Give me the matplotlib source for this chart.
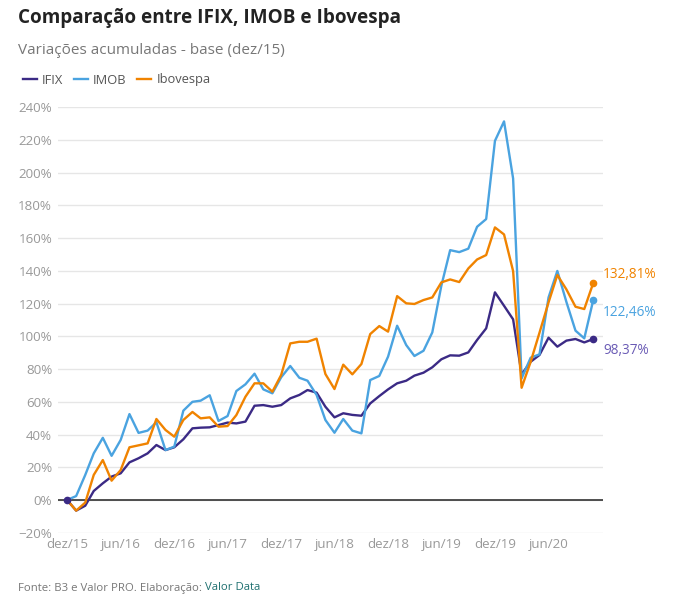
import numpy as np
import matplotlib.pyplot as plt
import matplotlib.dates as mdates
import pandas as pd

plt.rcParams['font.family'] = ['Open Sans', 'DejaVu Sans']

# monthly data, dez/15 .. nov/20 (accumulated %)
months = pd.date_range('2015-12-01', '2020-11-01', freq='MS')

ifix = [0, -6.5, -3.5, 5.5, 10.2, 14.3, 16.3, 23.0, 25.5, 28.5, 33.6, 30.5,
        32.2, 37.1, 43.8, 44.2, 44.4, 45.8, 47.3, 46.8, 47.9, 57.6, 58.0, 57.0,
        58.0, 62.1, 64.2, 67.2, 65.6, 57.0, 50.5, 53.0, 52.0, 51.5, 59.0, 63.5,
        67.6, 71.3, 72.9, 76.0, 77.8, 81.1, 86.0, 88.4, 88.2, 90.2, 97.8, 104.9,
        126.9, 118.7, 110.4, 76.8, 84.5, 88.6, 99.2, 93.7, 97.4, 98.4, 96.3, 98.37]

imob = [0, 2.4, 15.3, 28.5, 38.0, 27.0, 36.7, 52.5, 41.0, 42.4, 47.5, 30.5,
        32.6, 54.6, 60.0, 60.7, 64.0, 48.3, 51.3, 66.6, 70.7, 77.2, 67.6, 65.2,
        75.0, 81.9, 74.7, 72.9, 64.2, 48.9, 41.1, 49.5, 42.4, 40.7, 73.3, 75.8,
        87.6, 106.5, 94.7, 88.0, 91.2, 102.4, 131.0, 152.7, 151.5, 153.6, 167.0, 171.7,
        219.5, 231.4, 196.5, 74.3, 87.0, 89.0, 123.8, 140.0, 121.0, 103.5, 98.8, 122.46]

ibov = [0, -6.5, -1.6, 15.3, 24.4, 11.8, 18.3, 32.2, 33.4, 34.6, 49.5, 42.8,
        38.7, 48.9, 53.8, 49.9, 50.5, 44.8, 45.2, 51.9, 63.1, 71.3, 71.3, 66.2,
        76.4, 95.7, 96.7, 96.7, 98.6, 77.0, 67.8, 82.7, 76.8, 83.1, 101.4, 106.3,
        102.9, 124.6, 120.2, 119.8, 122.2, 123.8, 133.0, 134.8, 133.2, 141.5, 147.0, 149.7,
        166.6, 162.3, 139.9, 68.6, 84.5, 102.2, 120.8, 137.5, 128.7, 118.1, 116.7, 132.81]

names = ['IFIX', 'IMOB', 'Ibovespa']
colors = ['#3b2a85', '#4aa3e0', '#f08300']
label_colors = ['#6a5bb5', '#4aa3e0', '#f08300']
yticks = np.arange(-20, 241, 20)

fig = plt.figure(figsize=(6.92, 6.07), dpi=100)
ax = fig.add_axes([0.0834, 0.1224, 0.7876, 0.7008])

series = [ifix, imob, ibov]
for vals, name, c in zip(series, names, colors):
    ax.plot(months, vals, color=c, lw=1.7, label=name, zorder=3)
    ax.plot(months[-1], vals[-1], 'o', color=c, ms=4.5, zorder=4)

ax.plot(months[0], ifix[0], 'o', color=colors[0], ms=4.5, zorder=4)

# end labels
offsets = {'IFIX': 351, 'IMOB': 313, 'Ibovespa': 274}
for vals, name, lc in zip(series, names, label_colors):
    txt = f'{vals[-1]:.2f}%'.replace('.', ',')
    fig.text(603 / 692, 1 - offsets[name] / 607, txt, color=lc, fontsize=9.8,
             ha='left', va='center')

ax.set_ylim(-20, 240)
pad = pd.Timedelta(days=32)
ax.set_xlim(months[0] - pad, months[-1] + pad)
ax.set_yticks(yticks)
ax.set_yticklabels([f'{v}%'.replace('-', '\u2212') for v in yticks])
tick_months = [m for m in months if m.month in (6, 12)]
pt = {6: 'jun', 12: 'dez'}
ax.set_xticks(tick_months)
ax.set_xticklabels([f"{pt[m.month]}/{m.strftime('%y')}" for m in tick_months])

ax.grid(axis='y', color='#e6e6e6', lw=1, zorder=0)
ax.axhline(0, color='#333333', lw=1.2, zorder=2)
for s in ax.spines.values():
    s.set_visible(False)
ax.tick_params(length=0, colors='#999999', labelsize=9.6)
ax.tick_params(axis='y', pad=4)
ax.tick_params(axis='x', pad=4)

fig.text(18 / 692, 1 - 18 / 607, 'Comparação entre IFIX, IMOB e Ibovespa',
         fontsize=13.6, fontweight='bold', color='#222222', va='center')
fig.text(18 / 692, 1 - 50 / 607, 'Variações acumuladas - base (dez/15)',
         fontsize=11, color='#777777', va='center')

fig.legend(loc='center left', bbox_to_anchor=(11 / 692, 1 - 80 / 607), ncol=3,
           frameon=False, fontsize=9.3, handlelength=1.1, handletextpad=0.4,
           columnspacing=0.8, labelcolor='#555555')

t = fig.text(18 / 692, 1 - 588 / 607, 'Fonte: B3 e Valor PRO. Elaboração: ',
             fontsize=8.2, color='#777777', va='center')
fig.canvas.draw()
bb = t.get_window_extent()
fig.text(bb.x1 / fig.bbox.width, 1 - 588 / 607, 'Valor Data',
         fontsize=8.2, color='#1f7070', va='center')

fig.savefig('out.png', dpi=100)
